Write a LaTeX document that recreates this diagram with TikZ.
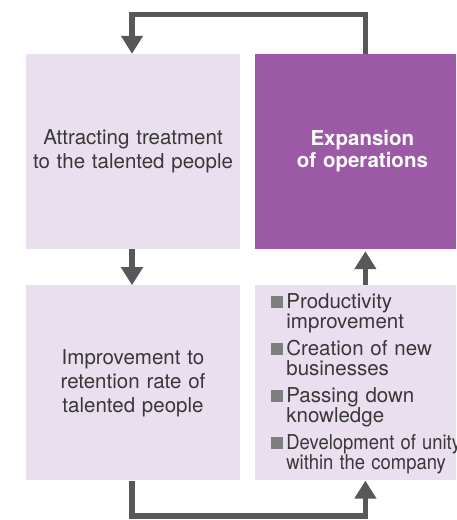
\documentclass[tikz,border=0pt]{standalone}
\usepackage{fontspec}
\usepackage{graphicx}
\setmainfont{TeX Gyre Heros}
\usetikzlibrary{positioning,arrows.meta}

\definecolor{boxlight}{HTML}{E9DFEE}
\definecolor{boxpurple}{HTML}{9C5AA6}
\definecolor{flowgray}{HTML}{58585A}
\definecolor{textgray}{HTML}{383838}
\definecolor{bulletgray}{HTML}{7F7F7F}

% one entry of the list, square bullet with hanging indent
\newcommand{\gainitem}[1]{\noindent\hangindent=15pt\hangafter=1
  \makebox[15pt][l]{\textcolor{bulletgray}{\rule{12pt}{12pt}}}#1\par}
% narrowed type for the long entry
\newcommand{\narrow}[1]{\scalebox{0.9}[1]{#1}}

\begin{document}
\begin{tikzpicture}[
    card/.style={rectangle,fill=boxlight,minimum width=214pt,minimum height=195pt,
		text width=200pt,align=center,inner sep=0pt,text=textgray,
		font=\fontsize{20.5pt}{24pt}\selectfont},
    hilite/.style={card,fill=boxpurple,text=white,
		font=\fontsize{20.5pt}{22pt}\selectfont\bfseries},
    flow/.style={line width=5.5pt,draw=flowgray,
		-{Triangle[length=18pt,width=21pt]}},
    node distance=36pt and 15pt
]
    \useasboundingbox (0,0) rectangle (456pt,-520pt);
    \clip (0,0) rectangle (456pt,-520pt);

    \node (attract) [card] at (133pt,-151.5pt)
        {Attracting treatment\\to the talented people};
    \node (expand) [hilite,right=of attract] {Expansion\\of operations};
    \node (retain) [card,below=of attract]
        {Improvement to\\retention rate of\\talented people};
    \node (gains) [card,below=of expand] {};

    % list of gains inside the lower right box
    \node (gainlist) [anchor=north west,inner sep=0pt,text width=198pt,
        align=left,text=textgray,font=\fontsize{20.5pt}{20pt}\selectfont]
        at ([xshift=16pt,yshift=-8pt]gains.north west) {%
        \setlength{\parskip}{7pt}%
        \gainitem{Productivity\newline improvement}
        \gainitem{Creation of new\newline businesses}
        \gainitem{Passing down\newline knowledge}
        \gainitem{\narrow{Development of unity}\newline
            \narrow{within the company}}};

    % the cycle
    \draw[flow] ([xshift=3pt]expand.north) -- ++(0,39.5pt)
        -| ([xshift=-1pt]attract.north);
    \draw[flow] ([xshift=-1pt]attract.south) -- ([xshift=-1pt]retain.north);
    \draw[flow] ([xshift=-1pt]retain.south) -- ++(0,-35.5pt)
        -| ([xshift=3pt]gains.south);
    \draw[flow] ([xshift=3pt]gains.north) -- ([xshift=3pt,yshift=-2pt]expand.south);
\end{tikzpicture}
\end{document}
